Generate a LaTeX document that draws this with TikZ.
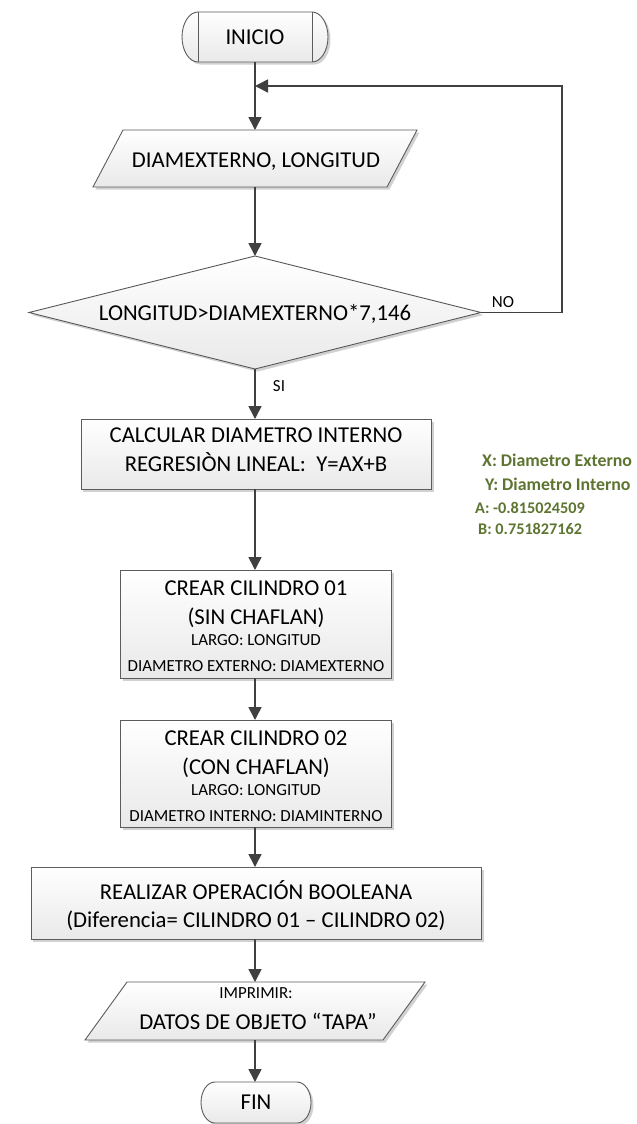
\documentclass[tikz,border=0pt]{standalone}
\usepackage{fontspec}
\setmainfont{Carlito}
\usetikzlibrary{arrows.meta,shapes.geometric,shadows,backgrounds}

\definecolor{connc}{RGB}{64,64,64}
\definecolor{edgec}{RGB}{92,92,92}
\definecolor{shadec}{RGB}{233,233,233}
\definecolor{notec}{RGB}{94,117,50}

\newcommand\bigtxt{\fontsize{22.8pt}{27pt}\selectfont}
\newcommand\smalltxt{\fontsize{17pt}{20pt}\selectfont}
\newcommand\notetxt{\fontsize{17.9pt}{21pt}\selectfont\bfseries}
\newcommand\coeftxt{\fontsize{16.3pt}{19pt}\selectfont\bfseries}

\begin{document}
\begin{tikzpicture}[x=1bp,y=-1bp,
  shapebase/.style={draw=edgec, line width=0.9bp, top color=white, bottom color=shadec,
    drop shadow={shadow xshift=2.5bp, shadow yshift=-2.5bp, fill=black, opacity=0.18}},
  procbox/.style={shapebase, rectangle, inner sep=0pt, outer sep=0pt},
  frame/.style={rectangle, inner sep=0pt, outer sep=0pt},
  decbox/.style={shapebase, diamond, inner sep=0pt, outer sep=0pt},
  termbox/.style={rectangle, inner sep=0pt, outer sep=0pt, font=\bigtxt},
  termline/.style={draw=edgec, line width=0.9bp},
  txt/.style={anchor=base, inner sep=0pt, text=black},
  note/.style={anchor=base west, inner sep=0pt, text=notec},
  conn/.style={draw=connc, line width=1.6bp, -{Triangle[length=13bp,width=13bp]}},
]
\useasboundingbox (0,0) rectangle (637,1124);

% terminators (outline drawn on the background layer below)
\node[termbox, minimum width=146bp, minimum height=50bp] (start) at (255,37) {INICIO};
\node[termbox, minimum width=110bp, minimum height=41bp] (stop) at (256,1102.5) {FIN};

% input (outline drawn below)
\node[frame, minimum width=324bp, minimum height=57bp] (input) at (255,158.5) {};
\node[txt, font=\bigtxt] (inputtxt) at (256,167) {DIAMEXTERNO, LONGITUD};

% decision
\node[decbox, minimum width=452bp, minimum height=113bp] (test) at (255,312.5) {};
\node[txt, font=\bigtxt] (testtxt) at (255,320) {LONGITUD>DIAMEXTERNO*7,146};
\node[txt, font=\smalltxt] (no) at (503,307.5) {NO};
\node[txt, font=\smalltxt] (si) at (279,391.5) {SI};

% regression step
\node[procbox, minimum width=350bp, minimum height=70bp] (calc) at (256,454) {};
\node[txt, font=\bigtxt] (calcA) at (256,442) {CALCULAR DIAMETRO INTERNO};
\node[txt, font=\bigtxt] (calcB) at (256,471) {REGRESIÒN LINEAL:\ \ Y=AX+B};

% regression coefficients
\node[note, font=\notetxt] (nx) at (482,466) {X: Diametro Externo};
\node[note, font=\notetxt] (ny) at (485,490) {Y: Diametro Interno};
\node[note, font=\coeftxt] (na) at (475,513) {A: -0.815024509};
\node[note, font=\coeftxt] (nb) at (478,534) {B: 0.751827162};

% cylinder 01
\node[procbox, minimum width=271bp, minimum height=108bp] (cylA) at (256,624) {};
\node[txt, font=\bigtxt] (cylA1) at (256,595) {CREAR CILINDRO 01};
\node[txt, font=\bigtxt] (cylA2) at (256,624) {(SIN CHAFLAN)};
\node[txt, font=\smalltxt] (cylA3) at (256,645.5) {LARGO: LONGITUD};
\node[txt, font=\smalltxt] (cylA4) at (256,671.5) {DIAMETRO EXTERNO: DIAMEXTERNO};

% cylinder 02
\node[procbox, minimum width=271bp, minimum height=107bp] (cylB) at (256,773.5) {};
\node[txt, font=\bigtxt] (cylB1) at (256,745) {CREAR CILINDRO 02};
\node[txt, font=\bigtxt] (cylB2) at (256,774) {(CON CHAFLAN)};
\node[txt, font=\smalltxt] (cylB3) at (256,795.5) {LARGO: LONGITUD};
\node[txt, font=\smalltxt] (cylB4) at (256,821.5) {DIAMETRO INTERNO: DIAMINTERNO};

% boolean operation
\node[procbox, minimum width=450bp, minimum height=72bp] (bool) at (256,903) {};
\node[txt, font=\bigtxt] (boolA) at (256,899) {REALIZAR OPERACIÓN BOOLEANA};
\node[txt, font=\bigtxt] (boolB) at (256,927) {(Diferencia= CILINDRO 01 – CILINDRO 02)};

% output (outline drawn below)
\node[frame, minimum width=340bp, minimum height=58bp] (output) at (255,1011) {};
\node[txt, font=\smalltxt] (outA) at (256,998.5) {IMPRIMIR:};
\node[txt, font=\bigtxt] (outB) at (258,1029) {DATOS DE OBJETO “TAPA”};

% outlines of terminators and data shapes
\begin{scope}[on background layer]
  \fill[white] (0,0) rectangle (637,1124);
  \path[shapebase]
    ([xshift=16bp]start.north west) -- ([xshift=-16bp]start.north east)
    arc[start angle=90, end angle=-90, x radius=16bp, y radius=25bp]
    -- ([xshift=16bp]start.south west)
    arc[start angle=270, end angle=90, x radius=16bp, y radius=25bp] -- cycle;
  \path[shapebase]
    ([xshift=14bp]stop.north west) -- ([xshift=-14bp]stop.north east)
    arc[start angle=90, end angle=-90, x radius=14bp, y radius=20.5bp]
    -- ([xshift=14bp]stop.south west)
    arc[start angle=270, end angle=90, x radius=14bp, y radius=20.5bp] -- cycle;
  \path[shapebase]
    (input.south west) -- ([xshift=-30bp]input.south east)
    -- (input.north east) -- ([xshift=30bp]input.north west) -- cycle;
  \path[shapebase]
    (output.south west) -- ([xshift=-42bp]output.south east)
    -- (output.north east) -- ([xshift=42bp]output.north west) -- cycle;
\end{scope}
\draw[termline] ([xshift=16bp]start.north west) -- ([xshift=16bp]start.south west);
\draw[termline] ([xshift=-16bp]start.north east) -- ([xshift=-16bp]start.south east);

% connectors
\coordinate (merge) at (255,86);
\coordinate (loopturn) at (562,86);
\draw[conn] (start) -- (input);
\draw[conn] (input) -- (test);
\draw[conn] (test.east) -| (loopturn) -- (merge);
\draw[conn] (test) -- (test |- calc.north);
\draw[conn] (calc.south -| test) -- (test |- cylA.north);
\draw[conn] (cylA.south -| test) -- (test |- cylB.north);
\draw[conn] (cylB.south -| test) -- (test |- bool.north);
\draw[conn] (bool.south -| test) -- (output);
\draw[conn] (output) -- (stop.north -| output);
\end{tikzpicture}
\end{document}
